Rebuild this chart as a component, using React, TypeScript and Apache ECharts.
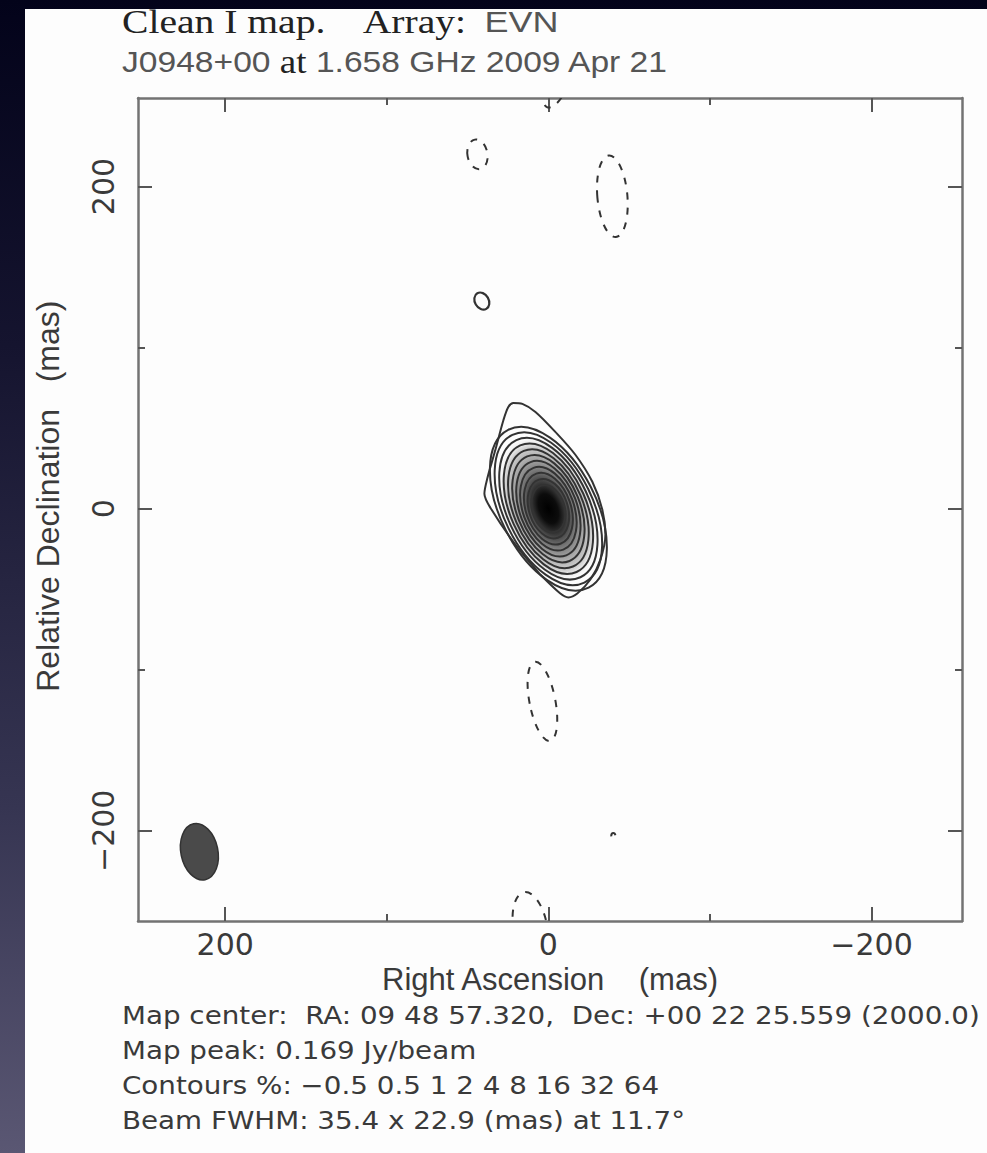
import React, { useEffect, useRef } from "react";
import * as echarts from "echarts";

// ---- axis ranges / ticks (mas) ----
const xRange = [-256, 254];
const yRange = [-256, 255];
const majorTicks = [-200, 0, 200];
const minorTicks = [-100, 100];

// ---- main source: elliptical contour rings centred on the peak ----
const ringSemiMajor = [55, 51, 47, 43, 39, 35, 31, 27, 23, 19, 15];
const ringSemiMinor = [29.5, 27.5, 25.5, 23.5, 21.5, 19.6, 17.7, 15.8, 13.9, 12.0, 10.0];
const ringPA = [27, 26, 25, 24, 23, 22, 21, 20, 19, 18, 17];
const peak = [0, 0];
const shadeSize = [48, 28];

// ---- outermost (0.5%) contour of the main source, vertices in mas ----
const outerX = [5.0, 20.4, 35.9, 39.6, 37.7, 32.8, 27.8, 24.8, 21.7, 16.1, 8.0, -4.3, -16.7, -27.2, -33.4, -35.3, -32.2, -26.0, -17.9, -12.4, -7.4, 5.0];
const outerY = [-40.9, -22.3, 0.6, 9.3, 19.2, 36.6, 55.1, 63.2, 65.7, 65.1, 60.1, 47.7, 33.5, 16.7, -0.6, -16.1, -31.6, -44.0, -52.7, -55.1, -52.7, -40.9];

// ---- negative (-0.5%) contours: centre x, centre y, semi-major, semi-minor, PA ----
const negCX = [43.9, -39.6, 3.7, 11.1, -5.0, -40.2];
const negCY = [220, 194, -119.6, -260.8, 262, -203.2];
const negA = [9.3, 25.4, 25, 23, 14, 1.8];
const negB = [6.2, 9.3, 8, 10.5, 6, 1.3];
const negPA = [10, 5, 11, 10, -25, 0];

// ---- small positive contour ----
const posCX = [41.2];
const posCY = [128.9];
const posA = [5.6];
const posB = [4.3];
const posPA = [30];

// ---- restoring beam ----
const beamCX = [216];
const beamCY = [-213];
const beamFWHM = [35.4, 22.9];
const beamPA = [11.7];

// ---- text ----
const titleLine1 = "{s|Clean I map.    Array:}    {n|EVN}";
const titleLine2 = "{n|J0948+00 }{s|at}{n| 1.658 GHz 2009 Apr 21}";
const footerLines = [
  "Map center:  RA: 09 48 57.320,  Dec: +00 22 25.559 (2000.0)",
  "Map peak: 0.169 Jy/beam",
  "Contours %: \u22120.5 0.5 1 2 4 8 16 32 64",
  "Beam FWHM: 35.4 x 22.9 (mas) at 11.7\u00b0",
];

const AXIS_COLOR = "#737373";
const TEXT_COLOR = "#3a3a3a";
const CONTOUR_COLOR = "#333333";

const fmt = (v: number) => (v < 0 ? "\u2212" + Math.abs(v) : String(v));

function ellipseItem(api: any, style: any) {
  const c = api.coord([api.value(0), api.value(1)]);
  const s = api.size([1, 1]);
  const a = api.value(2);
  const b = api.value(3);
  const pa = api.value(4);
  return {
    type: "ellipse",
    x: c[0],
    y: c[1],
    rotation: (pa * Math.PI) / 180,
    shape: { cx: 0, cy: 0, rx: Math.abs(b * s[0]), ry: Math.abs(a * s[1]) },
    style,
  };
}

function App() {
  const ref = useRef<HTMLDivElement>(null);
  useEffect(() => {
    if (!ref.current) return;
    const chart = echarts.init(ref.current, undefined, { renderer: "svg" });

    const xBase = {
      type: "value",
      gridIndex: 0,
      min: xRange[0],
      max: xRange[1],
      inverse: true,
      splitLine: { show: false },
    };
    const yBase = {
      type: "value",
      gridIndex: 0,
      min: yRange[0],
      max: yRange[1],
      splitLine: { show: false },
    };
    const lineOn = { show: true, onZero: false, lineStyle: { color: AXIS_COLOR, width: 2.5 } };
    const lineOff = { show: false, onZero: false };
    const majorTick = { show: true, inside: true, length: 14, customValues: majorTicks, lineStyle: { color: "#555", width: 2 } };
    const minorTick = { show: true, inside: true, length: 7, customValues: minorTicks, lineStyle: { color: "#555", width: 2 } };
    const labelOff = { show: false };
    const tickLabel = {
      show: true,
      customValues: majorTicks,
      formatter: fmt,
      fontSize: 30,
      fontFamily: "DejaVu Sans",
      color: TEXT_COLOR,
    };

    const ringData = ringSemiMajor.map((a, i) => [peak[0], peak[1], a, ringSemiMinor[i], ringPA[i]]);
    const negData = negCX.map((x, i) => [x, negCY[i], negA[i], negB[i], negPA[i]]);
    const posData = posCX.map((x, i) => [x, posCY[i], posA[i], posB[i], posPA[i]]);
    const beamData = beamCX.map((x, i) => [x, beamCY[i], beamFWHM[0] / 2, beamFWHM[1] / 2, beamPA[i]]);
    const outerData = outerX.map((x, i) => [x, outerY[i]]);

    const titleRich = {
      s: { fontFamily: "Liberation Serif", fontSize: 33, fill: "#222" },
      n: { fontFamily: "Liberation Sans", fontSize: 30, fill: "#555" },
    };

    const option: any = {
      animation: false,
      backgroundColor: {
        type: "linear",
        x: 0,
        y: 0,
        x2: 0,
        y2: 1,
        colorStops: [
          { offset: 0, color: "#03031a" },
          { offset: 0.3, color: "#15142f" },
          { offset: 0.7, color: "#363552" },
          { offset: 1, color: "#5a5773" },
        ],
      },
      grid: { left: 138, top: 98, width: 824, height: 823, show: false },
      xAxis: [
        {
          ...xBase,
          position: "bottom",
          axisLine: lineOn,
          axisTick: majorTick,
          axisLabel: { ...tickLabel, margin: 8 },
          name: "Right Ascension    (mas)",
          nameLocation: "middle",
          nameGap: 31,
          nameTextStyle: { fontSize: 31, fontFamily: "Liberation Sans", color: TEXT_COLOR },
        },
        { ...xBase, position: "bottom", axisLine: lineOff, axisTick: minorTick, axisLabel: labelOff },
        { ...xBase, position: "top", axisLine: lineOn, axisTick: majorTick, axisLabel: labelOff },
        { ...xBase, position: "top", axisLine: lineOff, axisTick: minorTick, axisLabel: labelOff },
      ],
      yAxis: [
        {
          ...yBase,
          position: "left",
          axisLine: lineOn,
          axisTick: majorTick,
          axisLabel: { ...tickLabel, rotate: 90, margin: 20 },
          name: "   Relative Declination   (mas)",
          nameLocation: "middle",
          nameRotate: 90,
          nameGap: 74,
          nameTextStyle: { fontSize: 32, fontFamily: "Liberation Sans", color: TEXT_COLOR },
        },
        { ...yBase, position: "left", axisLine: lineOff, axisTick: minorTick, axisLabel: labelOff },
        { ...yBase, position: "right", axisLine: lineOn, axisTick: majorTick, axisLabel: labelOff },
        { ...yBase, position: "right", axisLine: lineOff, axisTick: minorTick, axisLabel: labelOff },
      ],
      graphic: [
        {
          type: "rect",
          z: -100,
          shape: { x: 25, y: 9, width: 962, height: 1144 },
          style: { fill: "#fdfdfd" },
        },
        {
          type: "text",
          x: 122,
          y: 22,
          scaleX: 1.2,
          style: { text: titleLine1, verticalAlign: "middle", rich: titleRich },
        },
        {
          type: "text",
          x: 122,
          y: 62,
          scaleX: 1.12,
          style: { text: titleLine2, verticalAlign: "middle", rich: titleRich },
        },
        ...footerLines.map((t, i) => ({
          type: "text",
          x: 122,
          y: 1015 + i * 35,
          scaleX: 1.11,
          style: {
            text: t,
            verticalAlign: "middle",
            fontFamily: "DejaVu Sans",
            fontSize: 25,
            fill: TEXT_COLOR,
          },
        })),
      ],
      series: [
        {
          name: "shade",
          type: "custom",
          clip: true,
          xAxisIndex: 0,
          yAxisIndex: 0,
          data: [[peak[0], peak[1], shadeSize[0], shadeSize[1], ringPA[5]]],
          renderItem: (params: any, api: any) => {
            const c = api.coord([api.value(0), api.value(1)]);
            const s = api.size([1, 1]);
            return {
              type: "circle",
              x: c[0],
              y: c[1],
              rotation: (api.value(4) * Math.PI) / 180,
              scaleX: Math.abs(api.value(3) * s[0]),
              scaleY: Math.abs(api.value(2) * s[1]),
              shape: { cx: 0, cy: 0, r: 1 },
              style: {
                fill: new echarts.graphic.RadialGradient(0.5, 0.5, 0.5, [
                  { offset: 0, color: "#000000" },
                  { offset: 0.2, color: "#0c0c0c" },
                  { offset: 0.36, color: "#3c3c3c" },
                  { offset: 0.52, color: "#777777" },
                  { offset: 0.68, color: "#a8a8a8" },
                  { offset: 0.84, color: "#d2d2d2" },
                  { offset: 1, color: "rgba(253,253,253,0)" },
                ]),
              },
            };
          },
        },
        {
          name: "rings",
          type: "custom",
          clip: true,
          xAxisIndex: 0,
          yAxisIndex: 0,
          data: ringData,
          renderItem: (params: any, api: any) =>
            ellipseItem(api, { fill: "none", stroke: CONTOUR_COLOR, lineWidth: 2 }),
        },
        {
          name: "outer",
          type: "line",
          xAxisIndex: 0,
          yAxisIndex: 0,
          data: outerData,
          smooth: 0.3,
          symbol: "none",
          lineStyle: { color: CONTOUR_COLOR, width: 2 },
        },
        {
          name: "positive",
          type: "custom",
          clip: true,
          xAxisIndex: 0,
          yAxisIndex: 0,
          data: posData,
          renderItem: (params: any, api: any) =>
            ellipseItem(api, { fill: "none", stroke: CONTOUR_COLOR, lineWidth: 2.2 }),
        },
        {
          name: "negative",
          type: "custom",
          clip: true,
          xAxisIndex: 0,
          yAxisIndex: 0,
          data: negData,
          renderItem: (params: any, api: any) =>
            ellipseItem(api, {
              fill: "none",
              stroke: CONTOUR_COLOR,
              lineWidth: 2,
              lineDash: [7, 8],
            }),
        },
        {
          name: "beam",
          type: "custom",
          clip: true,
          xAxisIndex: 0,
          yAxisIndex: 0,
          data: beamData,
          renderItem: (params: any, api: any) =>
            ellipseItem(api, { fill: "#4a4a4a", stroke: "#333", lineWidth: 1.5 }),
        },
      ],
    };
    chart.setOption(option);
    return () => chart.dispose();
  }, []);
  return (
    <div
      ref={ref}
      style={{ position: "fixed", left: 0, top: 0, width: 987, height: 1153 }}
    />
  );
}

export default App;
